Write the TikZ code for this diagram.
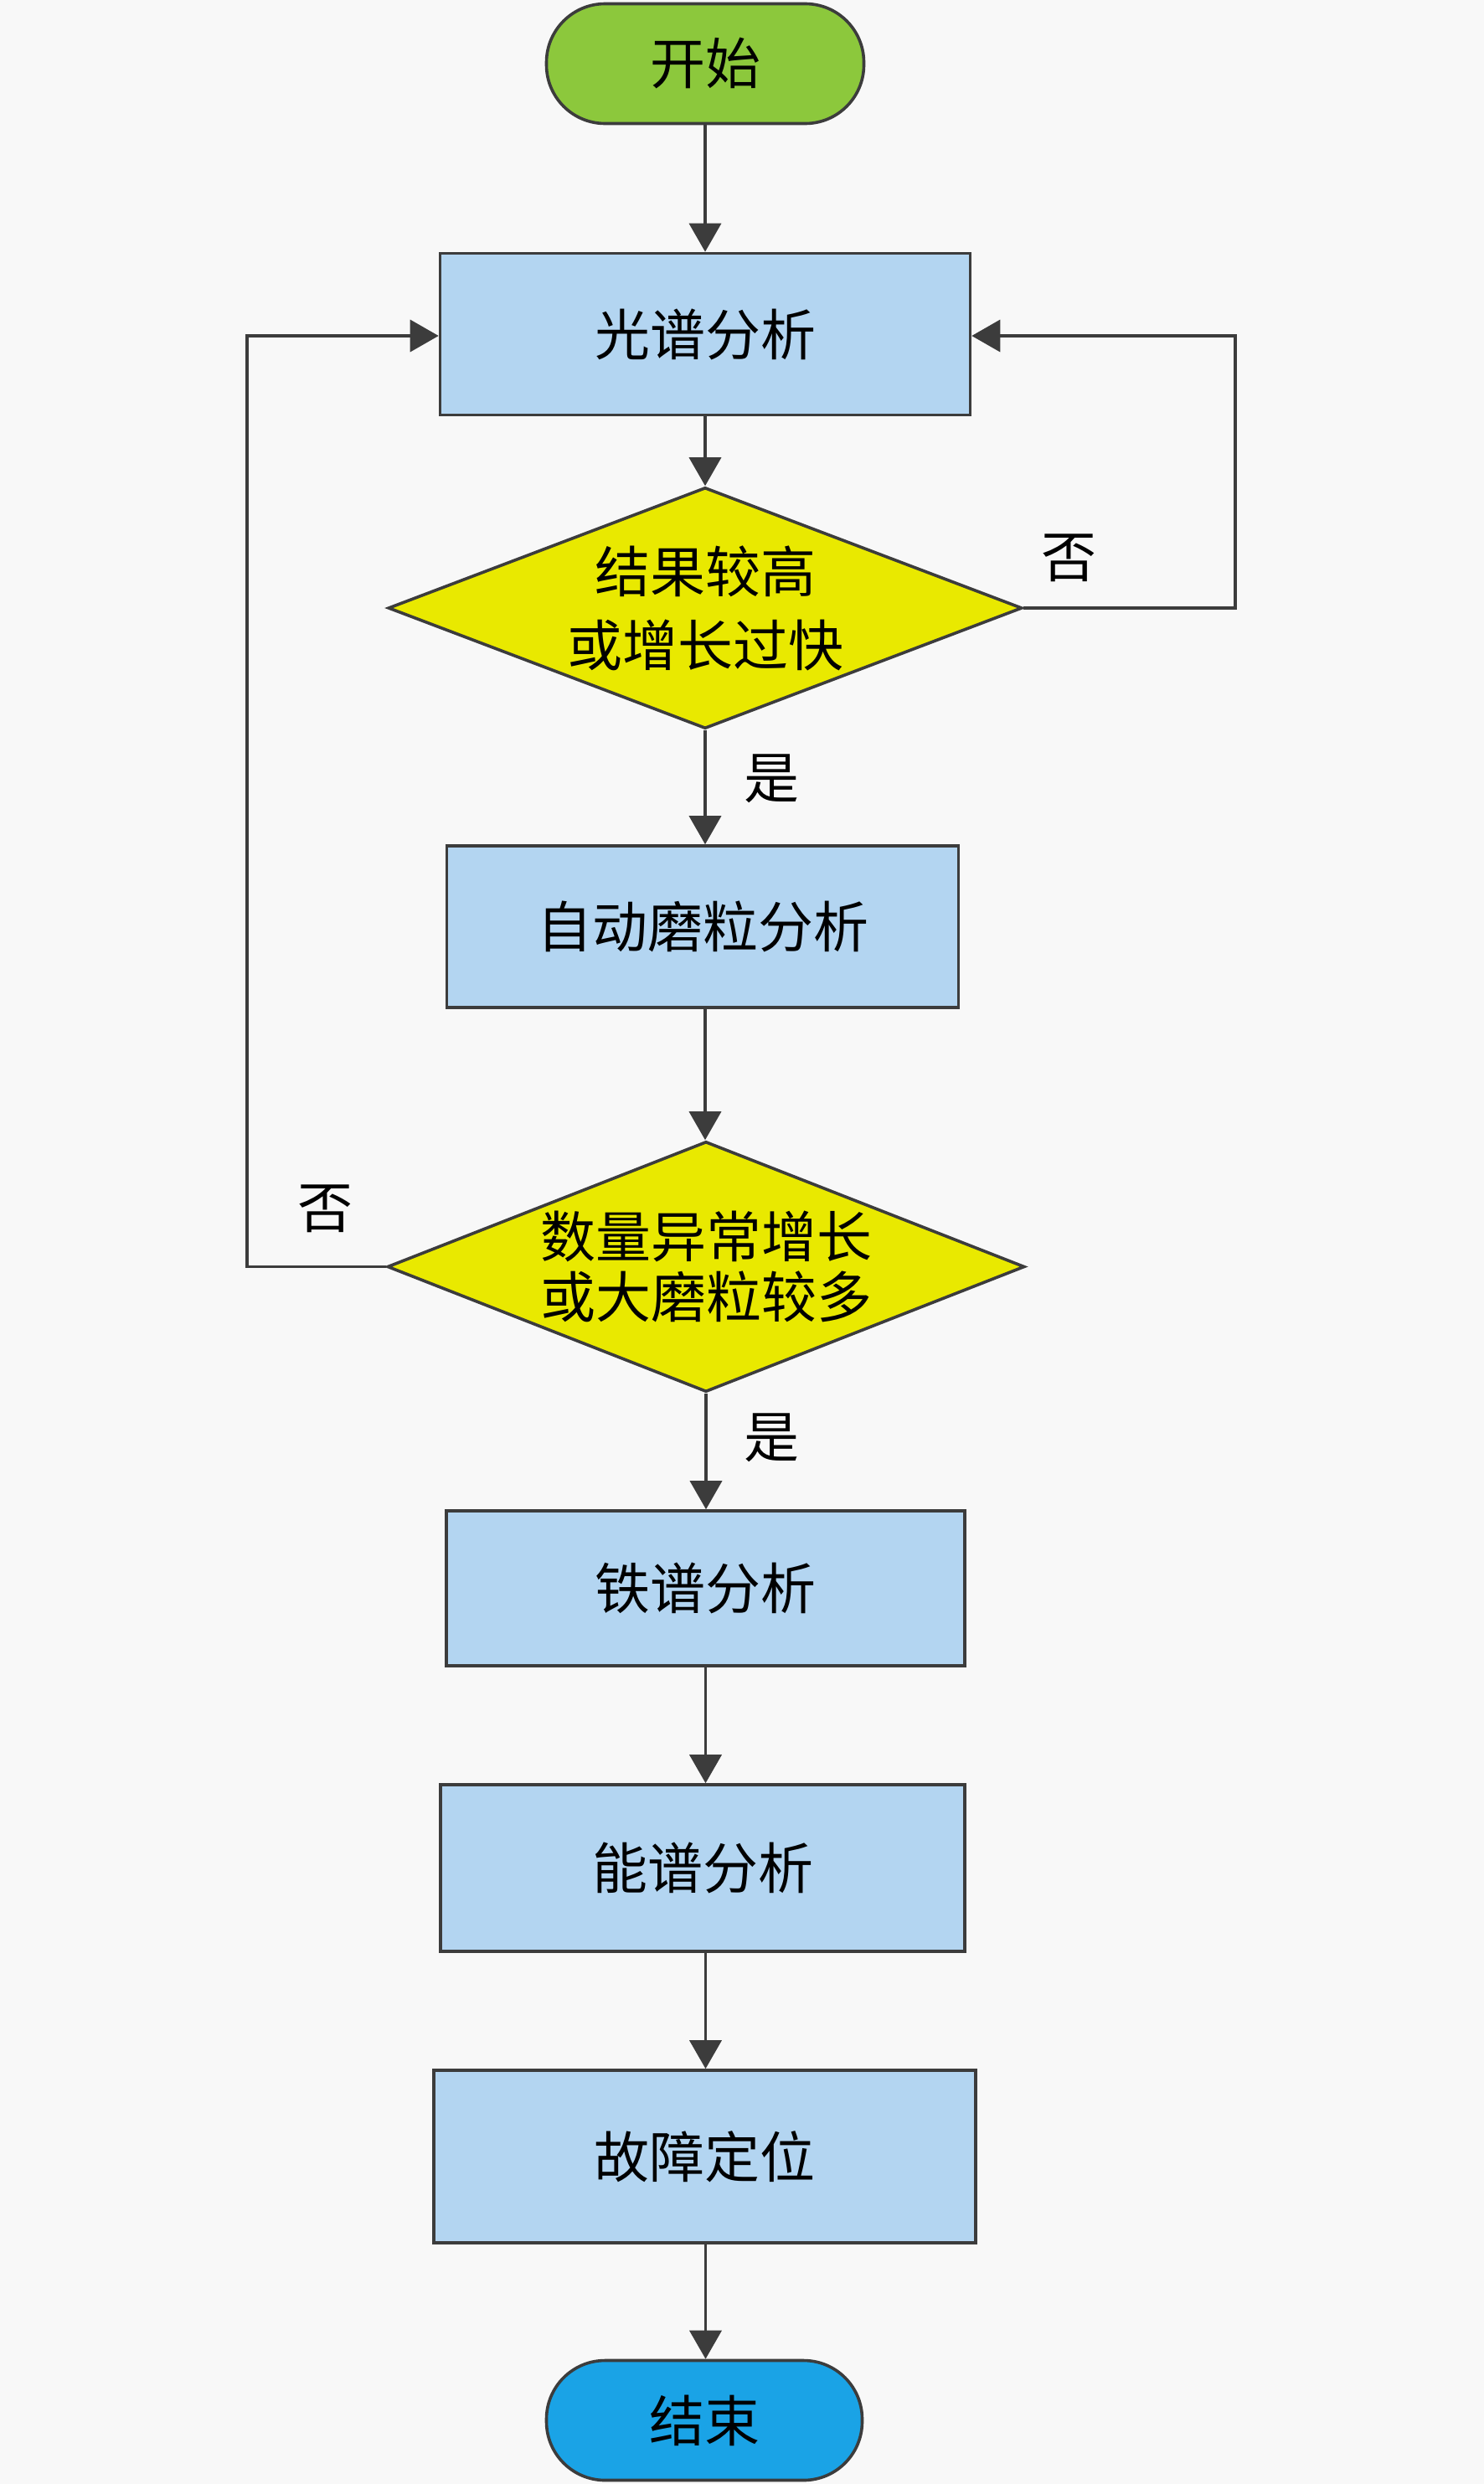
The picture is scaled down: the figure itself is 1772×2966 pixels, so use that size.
\documentclass[tikz,border=0pt]{standalone}
\usepackage{fontspec}
\newfontfamily\cjk{Noto Sans CJK SC}
\usetikzlibrary{shapes.geometric,arrows.meta}
\definecolor{bg}{HTML}{F8F8F8}
\definecolor{ln}{HTML}{3C3C3C}
\definecolor{boxfill}{HTML}{B3D5F1}
\definecolor{dia}{HTML}{E9E900}
\definecolor{startc}{HTML}{8CC83C}
\definecolor{endc}{HTML}{1AA3E6}
\begin{document}
\begin{tikzpicture}[x=0.5pt,y=-0.5pt,
  every node/.style={font=\cjk\fontsize{33}{36}\selectfont, text=black},
  term/.style={draw=ln, line width=1.8pt, rounded corners=35pt, minimum width=189.5pt, minimum height=71.5pt, inner sep=0pt},
  procbox/.style={draw=ln, line width=1.8pt, fill=boxfill, inner sep=0pt},
  decision/.style={draw=ln, line width=1.8pt, fill=dia, diamond, inner sep=0pt},
  flow/.style={draw=ln, line width=1.8pt, -{Triangle[length=17pt,width=19pt]}},
  lbl/.style={inner sep=0pt}
]
\fill[bg] (0,0) rectangle (1772,2966);
\useasboundingbox (0,0) rectangle (1772,2966);

\node[term, fill=startc] (start) at (842,76) {开始};
\node[procbox, minimum width=316.5pt, minimum height=96.5pt] (b1) at (842,399) {光谱分析};
\node[decision, minimum width=378.5pt, minimum height=144pt] (d1) at (842,726) {};
\node[lbl, align=center, font=\cjk\fontsize{33}{44}\selectfont] (d1t) at (d1.center) {结果较高\\或增长过快};
\node[procbox, minimum width=305.5pt, minimum height=96.5pt] (b2) at (839,1106.5) {自动磨粒分析};
\node[decision, minimum width=380.5pt, minimum height=149.5pt] (d2) at (843,1512.5) {};
\node[lbl, align=center, font=\cjk\fontsize{33}{36}\selectfont] (d2t) at (d2.center) {数量异常增长\\或大磨粒较多};
\node[procbox, minimum width=309.5pt, minimum height=92.5pt] (b3) at (842.5,1896.5) {铁谱分析};
\node[procbox, minimum width=313pt, minimum height=99.5pt] (b4) at (839,2230.5) {能谱分析};
\node[procbox, minimum width=323.5pt, minimum height=103pt] (b5) at (841.5,2575) {故障定位};
\node[term, fill=endc, minimum width=188.5pt] (end) at (841,2890) {结束};

\coordinate (r1) at (1475,726);
\coordinate (r2) at (1475,401);
\coordinate (l1) at (295,1512.5);
\coordinate (l2) at (295,401);

\draw[flow] (start.south) -- (start.south |- b1.north);
\draw[flow] (b1.south) -- (b1.south |- d1.north);
\draw[flow] (d1.south) -- (d1.south |- b2.north);
\draw[flow] (d1.south |- b2.south) -- (d1.south |- d2.north);
\draw[flow] (d2.south) -- (d2.south |- b3.north);
\draw[flow] (b3.south) -- (b3.south |- b4.north);
\draw[flow] (b3.south |- b4.south) -- (b3.south |- b5.north);
\draw[flow] (b3.south |- b5.south) -- (b3.south |- end.north);
\draw[flow] (d1.east) -- (r1) -- (r2) -- (b1.east |- r2);
\draw[flow] (d2.west) -- (l1) -- (l2) -- (b1.west |- l2);

\node[lbl] (no1) at (1276,666) {否};
\node[lbl] (no2) at (388,1443) {否};
\node[lbl] (yes1) at (921,930) {是};
\node[lbl] (yes2) at (921,1717) {是};
\end{tikzpicture}
\end{document}
